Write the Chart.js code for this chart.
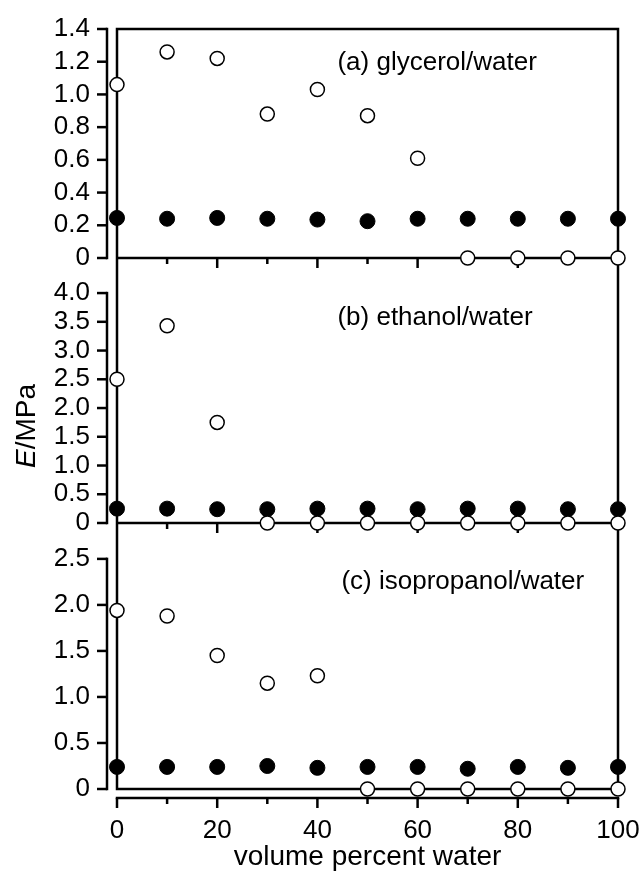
<!DOCTYPE html>
<html>
<head>
<meta charset="utf-8">
<script src="https://cdn.jsdelivr.net/npm/chart.js@4.4.0/dist/chart.umd.min.js"></script>
<style>
  html, body { margin: 0; padding: 0; background: #fff; }
  canvas { display: block; }
</style>
</head>
<body>
<canvas id="chartCanvas" width="644" height="878"></canvas>
<script>
const waterPct = [0, 10, 20, 30, 40, 50, 60, 70, 80, 90, 100];

// (a) glycerol/water
const glycerolOpen = [1.06, 1.26, 1.22, 0.88, 1.03, 0.87, 0.61, 0, 0, 0, 0];
const glycerolFilled = [0.245, 0.24, 0.245, 0.24, 0.235, 0.225, 0.24, 0.24, 0.24, 0.24, 0.24];

// (b) ethanol/water
const ethanolOpen = [2.5, 3.43, 1.75, 0, 0, 0, 0, 0, 0, 0, 0];
const ethanolFilled = [0.25, 0.25, 0.24, 0.24, 0.25, 0.25, 0.24, 0.25, 0.25, 0.24, 0.24];

// (c) isopropanol/water
const isopropanolOpen = [1.94, 1.88, 1.45, 1.15, 1.23, 0, 0, 0, 0, 0, 0];
const isopropanolFilled = [0.24, 0.24, 0.24, 0.25, 0.23, 0.24, 0.24, 0.22, 0.24, 0.23, 0.24];

const ticksA = [0, 0.2, 0.4, 0.6, 0.8, 1.0, 1.2, 1.4];
const ticksB = [0, 0.5, 1.0, 1.5, 2.0, 2.5, 3.0, 3.5, 4.0];
const ticksC = [0, 0.5, 1.0, 1.5, 2.0, 2.5];
const xTicks = [0, 20, 40, 60, 80, 100];
const xMinorTicks = [10, 30, 50, 70, 90];

const panelLabels = ['(a) glycerol/water', '(b) ethanol/water', '(c) isopropanol/water'];

const FONT = '"Liberation Sans", Arial, sans-serif';
const tickFont = { family: FONT, size: 26 };

function points(ys) {
  return waterPct.map((x, i) => ({ x: x, y: ys[i] }));
}

function openSet(ys, axis) {
  return {
    data: points(ys), yAxisID: axis,
    pointRadius: 7, pointBorderWidth: 1.5,
    pointBackgroundColor: '#fff', pointBorderColor: '#000',
    showLine: false, clip: false
  };
}

function filledSet(ys, axis) {
  return {
    data: points(ys), yAxisID: axis,
    pointRadius: 7.5, pointBorderWidth: 1,
    pointBackgroundColor: '#000', pointBorderColor: '#000',
    showLine: false, clip: false
  };
}

function yScale(tickVals, max, weight, stackWeight) {
  return {
    type: 'linear', position: 'left', stack: 'panels',
    weight: weight, stackWeight: stackWeight,
    min: 0, max: max,
    grid: { display: false, drawTicks: false },
    border: { display: false },
    ticks: {
      font: tickFont, color: '#000', padding: 27, autoSkip: false,
      callback: v => v === 0 ? '0' : v.toFixed(1)
    },
    afterBuildTicks: s => { s.ticks = tickVals.map(v => ({ value: v })); },
    afterFit: s => { s.width = 117; s.paddingTop = 0; s.paddingBottom = 0; }
  };
}

// frames, offset axes and texts
const framePlugin = {
  id: 'frames',
  beforeDatasetsDraw(chart) {
    const { ctx, chartArea: area, scales } = chart;
    const x = scales.x;
    const panels = [[scales.yA, ticksA], [scales.yB, ticksB], [scales.yC, ticksC]];
    ctx.save();
    ctx.strokeStyle = '#000';
    ctx.lineWidth = 2.5;

    const line = (x1, y1, x2, y2) => {
      ctx.beginPath(); ctx.moveTo(x1, y1); ctx.lineTo(x2, y2); ctx.stroke();
    };

    ctx.strokeRect(area.left, area.top, area.right - area.left, area.bottom - area.top);

    // dividers between panels, with ticks pointing into the panel below
    [scales.yA, scales.yB].forEach(s => {
      line(area.left, s.bottom, area.right, s.bottom);
      waterPct.slice(1, -1).forEach(v => {
        const px = x.getPixelForValue(v);
        line(px, s.bottom, px, s.bottom + (v % 20 === 0 ? 10 : 6));
      });
    });

    // offset y axes
    const ax = area.left - 10;
    panels.forEach(([s, tv]) => {
      const top = s.getPixelForValue(tv[tv.length - 1]);
      const bot = s.getPixelForValue(0);
      line(ax, top - 1.25, ax, bot + 1.25);
      tv.forEach(v => {
        const py = s.getPixelForValue(v);
        line(ax - 10, py, ax, py);
      });
    });

    // offset x axis
    const ay = area.bottom + 9;
    line(x.getPixelForValue(0) - 1.25, ay, x.getPixelForValue(100) + 1.25, ay);
    xTicks.forEach(v => { const px = x.getPixelForValue(v); line(px, ay, px, ay + 10); });
    xMinorTicks.forEach(v => { const px = x.getPixelForValue(v); line(px, ay, px, ay + 6); });

    // panel labels
    ctx.fillStyle = '#000';
    ctx.font = '26px ' + FONT;
    ctx.textAlign = 'left';
    ctx.textBaseline = 'alphabetic';
    const lx = x.getPixelForValue(44);
    ctx.fillText(panelLabels[0], lx, scales.yA.top + 41);
    ctx.fillText(panelLabels[1], lx, scales.yB.top + 67);
    ctx.fillText(panelLabels[2], lx + 4, scales.yC.top + 66);

    // x title
    ctx.font = '28px ' + FONT;
    ctx.textAlign = 'center';
    ctx.fillText('volume percent water', (area.left + area.right) / 2, 865);

    // y title, italic E
    ctx.save();
    ctx.translate(35, 426);
    ctx.rotate(-Math.PI / 2);
    ctx.textAlign = 'left';
    ctx.font = 'italic 28px ' + FONT;
    const wE = ctx.measureText('E').width;
    ctx.font = '28px ' + FONT;
    const wRest = ctx.measureText('/MPa').width;
    const start = -(wE + wRest) / 2;
    ctx.font = 'italic 28px ' + FONT;
    ctx.fillText('E', start, 0);
    ctx.font = '28px ' + FONT;
    ctx.fillText('/MPa', start + wE, 0);
    ctx.restore();

    ctx.restore();
  }
};

new Chart(document.getElementById('chartCanvas'), {
  type: 'scatter',
  data: {
    datasets: [
      openSet(glycerolOpen, 'yA'),
      openSet(ethanolOpen, 'yB'),
      openSet(isopropanolOpen, 'yC'),
      filledSet(glycerolFilled, 'yA'),
      filledSet(ethanolFilled, 'yB'),
      filledSet(isopropanolFilled, 'yC')
    ]
  },
  options: {
    responsive: false,
    animation: false,
    layout: { padding: { top: 29, right: 26, left: 0, bottom: 0 } },
    plugins: { legend: { display: false }, tooltip: { enabled: false } },
    scales: {
      x: {
        type: 'linear', position: 'bottom', min: 0, max: 100,
        grid: { display: false, drawTicks: false },
        border: { display: false },
        ticks: { font: tickFont, color: '#000', padding: 26, autoSkip: false, maxRotation: 0 },
        afterBuildTicks: s => { s.ticks = xTicks.map(v => ({ value: v })); },
        afterFit: s => { s.height = 89; s.paddingLeft = 0; s.paddingRight = 0; }
      },
      yA: yScale(ticksA, 1.4, 3, 229),
      yB: yScale(ticksB, 4.61, 2, 265),
      yC: yScale(ticksC, 2.89, 1, 266)
    }
  },
  plugins: [framePlugin]
});
</script>
</body>
</html>
